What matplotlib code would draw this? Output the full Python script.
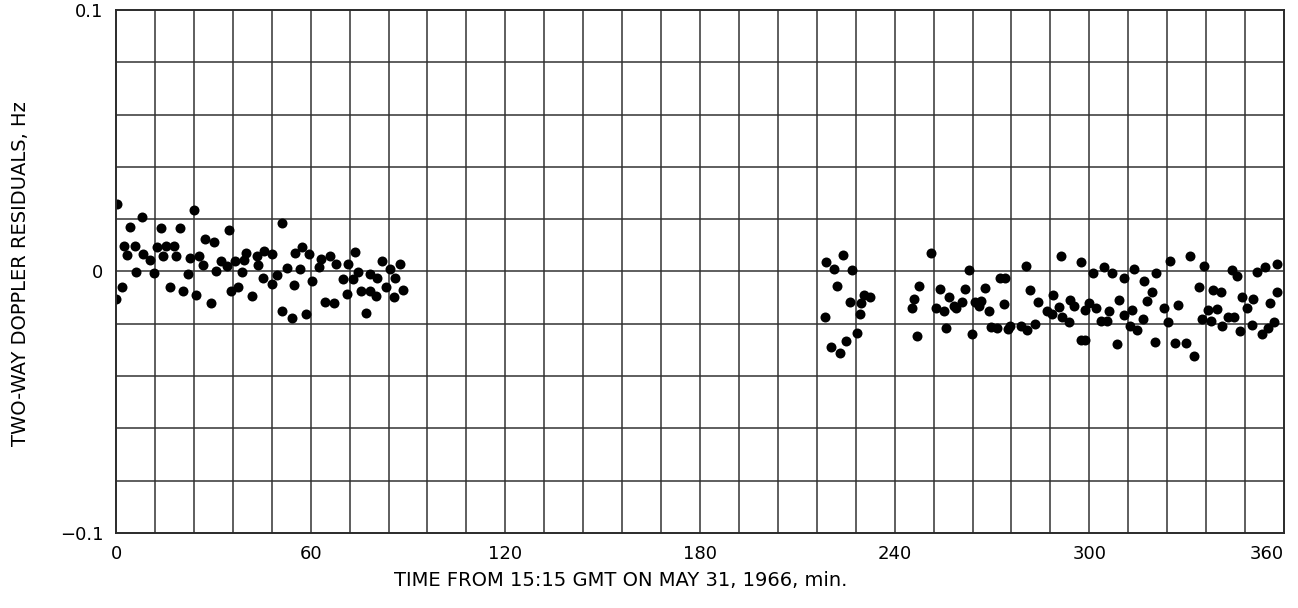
import numpy as np
import matplotlib
matplotlib.use("Agg")
import matplotlib.pyplot as plt

# pass 1: 15:15 - 16:45 GMT
t1 = [0.4, 24.1, 8.0, 4.4, 13.8, 19.8, 51.1, 34.9, 27.5, 30.1,
      2.3, 3.3, 5.8, 8.2, 10.6, 12.5, 15.3, 18.0, 14.6, 18.6,
      6.2, 11.6, 22.8, 25.5, 26.9, 22.1, 1.9, 0.0, 16.7, 20.6,
      24.5, 29.2, 30.9, 32.5, 34.3, 36.6, 38.8, 40.0, 39.3, 35.5,
      37.7, 41.8, 43.3, 45.7, 48.0, 43.8, 45.3, 48.1, 49.6, 52.6,
      55.2, 57.4, 59.6, 56.8, 54.7, 51.3, 54.3, 58.7, 60.5, 62.7,
      63.3, 65.8, 67.8, 64.5, 67.2, 71.4, 73.8, 70.1, 72.9, 74.5,
      71.3, 75.5, 78.4, 80.0, 77.0, 78.3, 80.4, 82.0, 84.3, 87.6,
      86.1, 83.2, 88.4, 85.6]
r1 = [0.0258, 0.0235, 0.0207, 0.0171, 0.0166, 0.0167, 0.0184, 0.0159, 0.0125, 0.0113,
      0.0099, 0.0064, 0.0099, 0.0067, 0.0043, 0.0095, 0.0096, 0.0096, 0.0059, 0.0058,
      -0.0003, -0.0005, 0.0050, 0.0059, 0.0026, -0.0008, -0.0059, -0.0106, -0.0059, -0.0076,
      -0.0091, -0.0122, 0.0001, 0.0040, 0.0022, 0.0041, -0.0001, 0.0072, 0.0044, -0.0073,
      -0.0058, -0.0095, 0.0060, 0.0077, 0.0067, 0.0024, -0.0026, -0.0049, -0.0012, 0.0013,
      0.0072, 0.0094, 0.0068, 0.0010, -0.0050, -0.0150, -0.0177, -0.0161, -0.0036, 0.0016,
      0.0048, 0.0058, 0.0030, -0.0118, -0.0122, 0.0030, 0.0076, -0.0029, -0.0029, -0.0002,
      -0.0086, -0.0075, -0.0075, -0.0094, -0.0158, -0.0010, -0.0024, 0.0039, 0.0010, 0.0030,
      -0.0025, -0.0058, -0.0071, -0.0099]

# pass 2: 18:55 - 21:15 GMT
t2 = [218.9, 224.1, 221.4, 227.0, 222.3, 218.4, 226.3, 229.7, 230.7, 232.4,
      229.4, 228.5, 225.0, 220.3, 223.0, 251.1, 247.6, 246.1, 245.2, 246.9,
      254.1, 252.8, 255.1, 256.8, 258.2, 259.0, 260.9, 261.6, 255.7, 263.0,
      263.9, 264.9, 266.5, 265.9, 267.7, 269.2, 269.8, 271.4, 272.4, 274.1,
      273.8, 275.0, 275.7, 278.8, 280.7, 283.2, 280.6, 281.8, 284.1, 287.0,
      291.3, 297.3, 301.0, 304.4, 307.1, 310.8, 313.9, 317.0, 320.4, 324.8,
      331.0, 335.4, 344.0, 345.6, 351.7, 354.1, 358.0, 288.8, 288.5, 290.8,
      291.7, 293.6, 294.0, 295.4, 298.7, 300.0, 302.2, 303.7, 305.3, 306.1,
      309.2, 310.8, 313.2, 312.4, 314.7, 316.4, 317.8, 319.4, 322.9, 324.1,
      327.2, 297.3, 298.6, 308.4, 320.2, 326.3, 329.7, 332.3, 333.7, 338.0,
      340.6, 336.5, 339.3, 334.6, 337.4, 341.0, 342.8, 344.5, 346.4, 347.2,
      350.5, 348.7, 355.6, 357.7, 350.1, 353.3, 355.0, 356.9]
r2 = [0.0037, 0.0064, 0.0010, 0.0007, -0.0054, -0.0173, -0.0115, -0.0120, -0.0090, -0.0098,
      -0.0161, -0.0235, -0.0266, -0.0289, -0.0313, 0.0072, -0.0054, -0.0104, -0.0138, -0.0246,
      -0.0068, -0.0138, -0.0152, -0.0098, -0.0131, -0.0141, -0.0118, -0.0068, -0.0217, 0.0005,
      -0.0239, -0.0115, -0.0112, -0.0131, -0.0064, -0.0151, -0.0212, -0.0215, -0.0026, -0.0026,
      -0.0123, -0.0219, -0.0207, -0.0207, -0.0225, -0.0200, 0.0022, -0.0071, -0.0118, -0.0151,
      0.0060, 0.0037, -0.0007, 0.0016, -0.0006, -0.0026, 0.0010, -0.0037, -0.0006, 0.0039,
      0.0058, 0.0022, 0.0007, -0.0018, -0.0003, 0.0016, 0.0030, -0.0090, -0.0163, -0.0136,
      -0.0175, -0.0193, -0.0110, -0.0133, -0.0147, -0.0120, -0.0141, -0.0189, -0.0189, -0.0150,
      -0.0109, -0.0166, -0.0147, -0.0207, -0.0223, -0.0182, -0.0114, -0.0077, -0.0138, -0.0194,
      -0.0129, -0.0262, -0.0262, -0.0277, -0.0271, -0.0273, -0.0273, -0.0323, -0.0060, -0.0070,
      -0.0078, -0.0147, -0.0145, -0.0182, -0.0188, -0.0208, -0.0175, -0.0174, -0.0228, -0.0096,
      -0.0104, -0.0141, -0.0120, -0.0080, -0.0203, -0.0240, -0.0217, -0.0192]

xticks = [0, 60, 120, 180, 240, 300, 360]
yticks = [-0.1, 0, 0.1]
yticklabels = ['\u22120.1', '0', '0.1']

fig = plt.figure(figsize=(12.98, 6.08), dpi=100)
ax = fig.add_axes([0.0894, 0.1234, 0.8998, 0.8602])

ax.plot(t1, r1, 'o', color='black', markersize=7.2, markeredgewidth=0)
ax.plot(t2, r2, 'o', color='black', markersize=7.2, markeredgewidth=0)

ax.set_xlim(0, 360)
ax.set_ylim(-0.1, 0.1)

# drafting grid: 12 min by 0.02 Hz
for v in np.arange(12, 360, 12):
    ax.axvline(v, color='#333333', lw=1.1, zorder=0)
for v in np.arange(-0.08, 0.1, 0.02):
    ax.axhline(v, color='#333333', lw=1.1, zorder=0)
for s in ax.spines.values():
    s.set_color('#2a2a2a')
    s.set_linewidth(1.4)

ax.set_xticks(xticks)
ax.set_xticklabels([str(v) for v in xticks])
ax.get_xticklabels()[-1].set_horizontalalignment('right')
ax.set_yticks(yticks)
ax.set_yticklabels(yticklabels)
ax.tick_params(length=0, labelsize=13, pad=9)

fig.text(0.478, 0.045, 'TIME FROM 15:15 GMT ON MAY 31, 1966, min.',
         ha='center', va='center', fontsize=14)
fig.text(0.016, 0.55, 'TWO-WAY DOPPLER RESIDUALS, Hz', rotation=90,
         ha='center', va='center', fontsize=14)

fig.savefig('out.png', dpi=100, facecolor='white')
